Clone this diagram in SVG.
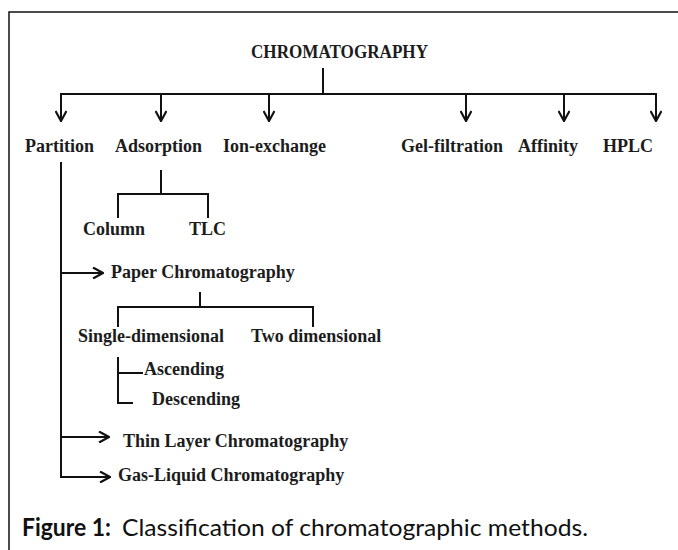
<svg xmlns="http://www.w3.org/2000/svg" width="678" height="550" viewBox="0 0 678 550">
  <style>
    .lbl { font-family: "Liberation Serif", "Times New Roman", serif; font-weight: bold; font-size: 18px; fill: #1c1c1c; }
    .ttl { font-family: "Liberation Serif", "Times New Roman", serif; font-weight: bold; font-size: 19px; fill: #1c1c1c; }
    .ln { fill: none; stroke: #111; stroke-width: 2; }
    .cap { font-family: Lato, "Open Sans", "Liberation Sans", sans-serif; font-size: 24px; fill: #111; }
  </style>
  <defs>
    <marker id="arr" viewBox="0 0 12 12" refX="11" refY="6" markerWidth="12" markerHeight="12" markerUnits="userSpaceOnUse" orient="auto">
      <path d="M1,0.5 L11,6 L1,11.5" fill="none" stroke="#111" stroke-width="2.2"/>
    </marker>
  </defs>
  <rect x="0" y="0" width="678" height="550" fill="#fff"/>
  <path d="M9,550 V12 H678" fill="none" stroke="#111" stroke-width="1.5"/>

  <g id="connectors">
    <path class="ln" d="M323,68 V94"/>
    <path class="ln" d="M60,94 H657"/>
    <path class="ln" d="M61,94 V121" marker-end="url(#arr)"/>
    <path class="ln" d="M161,94 V121" marker-end="url(#arr)"/>
    <path class="ln" d="M269,94 V121" marker-end="url(#arr)"/>
    <path class="ln" d="M466,94 V121" marker-end="url(#arr)"/>
    <path class="ln" d="M564,94 V121" marker-end="url(#arr)"/>
    <path class="ln" d="M656,94 V121" marker-end="url(#arr)"/>
    <path class="ln" d="M161,170 V194"/>
    <path class="ln" d="M118,218 V194 H208 V218"/>
    <path class="ln" d="M61,273 H103" marker-end="url(#arr)"/>
    <path class="ln" d="M200,292 V307"/>
    <path class="ln" d="M118,327 V307 H313 V327"/>
    <path class="ln" d="M118,357 V403 H133"/>
    <path class="ln" d="M118,373 H143"/>
    <path class="ln" d="M61,437 H109" marker-end="url(#arr)"/>
    <path class="ln" d="M61,162 V477 H110" marker-end="url(#arr)"/>
  </g>

  <g id="chromatography"><text class="ttl" x="251" y="58" textLength="177" lengthAdjust="spacingAndGlyphs">CHROMATOGRAPHY</text></g>
  <g id="partition"><text class="lbl" x="25" y="152">Partition</text></g>
  <g id="adsorption"><text class="lbl" x="115" y="152">Adsorption</text></g>
  <g id="ion-exchange"><text class="lbl" x="223" y="152">Ion-exchange</text></g>
  <g id="gel-filtration"><text class="lbl" x="401" y="152">Gel-filtration</text></g>
  <g id="affinity"><text class="lbl" x="518" y="152">Affinity</text></g>
  <g id="hplc"><text class="lbl" x="603" y="152">HPLC</text></g>
  <g id="column"><text class="lbl" x="83" y="235">Column</text></g>
  <g id="tlc"><text class="lbl" x="189" y="235">TLC</text></g>
  <g id="paper"><text class="lbl" x="111" y="278">Paper Chromatography</text></g>
  <g id="single"><text class="lbl" x="78" y="342">Single-dimensional</text></g>
  <g id="two"><text class="lbl" x="251" y="342">Two dimensional</text></g>
  <g id="ascending"><text class="lbl" x="144" y="375">Ascending</text></g>
  <g id="descending"><text class="lbl" x="152" y="405">Descending</text></g>
  <g id="thin-layer"><text class="lbl" x="123" y="447">Thin Layer Chromatography</text></g>
  <g id="gas-liquid"><text class="lbl" x="118" y="481">Gas-Liquid Chromatography</text></g>

  <g id="caption">
    <text class="cap" x="22" y="536" font-weight="bold" textLength="89" lengthAdjust="spacingAndGlyphs">Figure 1:</text>
    <text class="cap" x="122" y="536" textLength="466" lengthAdjust="spacingAndGlyphs">Classification of chromatographic methods.</text>
  </g>
</svg>
